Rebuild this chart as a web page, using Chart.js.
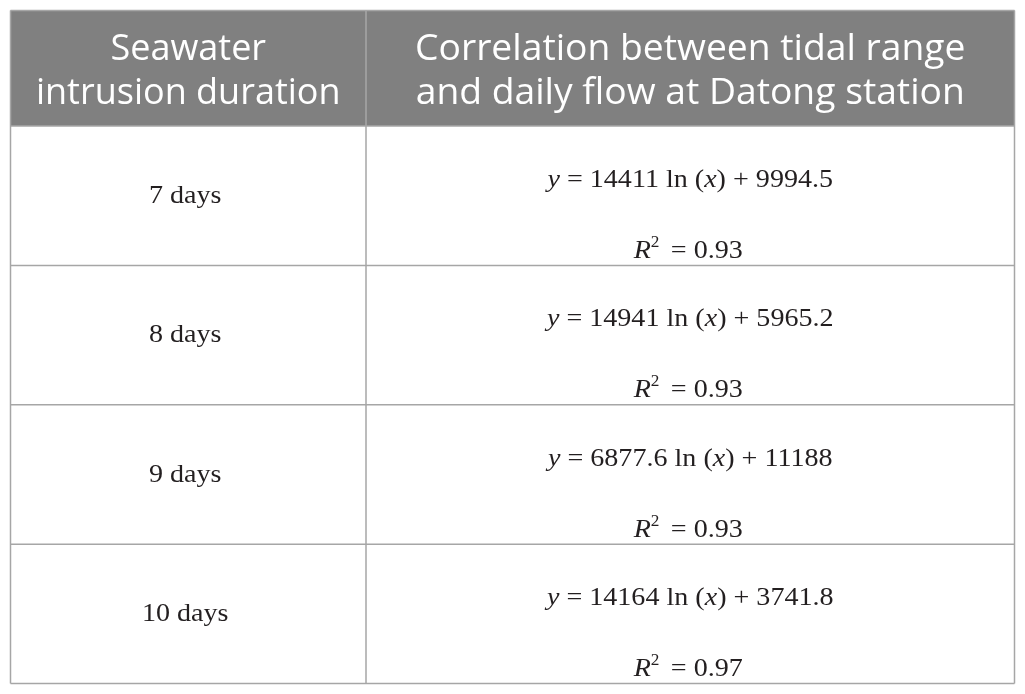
<!DOCTYPE html>
<html>
<head>
<meta charset="utf-8">
<script src="https://cdn.jsdelivr.net/npm/chart.js@4"></script>
<style>
  html, body { margin: 0; padding: 0; background: #ffffff; }
  #wrap { width: 1025px; height: 694px; }
</style>
</head>
<body>
<div id="wrap"><canvas id="c" width="1025" height="694"></canvas></div>
<script>
// ---- data ----
const headers = [
  ["Seawater", "intrusion duration"],
  ["Correlation between tidal range", "and daily flow at Datong station"]
];
const durations = ["7 days", "8 days", "9 days", "10 days"];
const slopes = ["14411", "14941", "6877.6", "14164"];
const intercepts = ["9994.5", "5965.2", "11188", "3741.8"];
const rSquared = ["0.93", "0.93", "0.93", "0.97"];

// ---- layout (pixel space of the hidden scales) ----
const L = { left: 10.5, right: 1014.5, top: 10.5, headBottom: 126, colDiv: 366, bottom: 683.5 };
const rowH = (L.bottom - L.headBottom) / durations.length;
const HSCALE = 1.08;
const BODY = 26;
const serif = "'Liberation Serif', 'Times New Roman', serif";

function drawRuns(ctx, runs, cx, baseline, size) {
  let total = 0;
  const parts = runs.map(r => {
    const s = r.sup ? Math.round(size * 0.62) : size;
    ctx.font = (r.i ? 'italic ' : '') + s + 'px ' + serif;
    const w = ctx.measureText(r.t).width + (r.pad || 0);
    total += w;
    return { r, s, w };
  });
  ctx.save();
  ctx.translate(cx, baseline);
  ctx.scale(HSCALE, 1);
  let x = -total / 2;
  for (const p of parts) {
    ctx.font = (p.r.i ? 'italic ' : '') + p.s + 'px ' + serif;
    ctx.fillText(p.r.t, x, p.r.sup ? -size * 0.42 : 0);
    x += p.w;
  }
  ctx.restore();
}

const tablePlugin = {
  id: 'tablePlugin',
  afterDraw(chart) {
    const ctx = chart.ctx;
    const xs = chart.scales.x, ys = chart.scales.y;
    const X = v => xs.getPixelForValue(v);
    const Y = v => ys.getPixelForValue(v);
    ctx.save();
    ctx.fillStyle = '#808080';
    ctx.fillRect(X(L.left), Y(L.top), X(L.right) - X(L.left), Y(L.headBottom) - Y(L.top));
    ctx.fillStyle = '#ffffff';
    ctx.textAlign = 'left';
    ctx.textBaseline = 'alphabetic';
    ctx.font = "36px 'Open Sans', sans-serif";
    const colCenters = [(L.left + L.colDiv) / 2, (L.colDiv + L.right) / 2];
    const headScale = [1, 1.035];
    headers.forEach((lines, ci) => {
      lines.forEach((ln, li) => {
        const w = ctx.measureText(ln).width;
        ctx.save();
        ctx.translate(X(colCenters[ci]), Y(L.top + 49 + li * 44));
        ctx.scale(headScale[ci], 1);
        ctx.fillText(ln, -w / 2, 0);
        ctx.restore();
      });
    });
    ctx.fillStyle = '#231f20';
    durations.forEach((d, i) => {
      const top = L.headBottom + i * rowH;
      drawRuns(ctx, [{ t: d }], X(colCenters[0] - 3), Y(top + 77), BODY);
      drawRuns(ctx, [
        { t: 'y', i: true },
        { t: ' = ' + slopes[i] + ' ln (' },
        { t: 'x', i: true },
        { t: ') + ' + intercepts[i] }
      ], X(colCenters[1]), Y(top + 61), BODY);
      drawRuns(ctx, [
        { t: 'R', i: true },
        { t: '2', sup: true, pad: 4 },
        { t: ' = ' + rSquared[i] }
      ], X(colCenters[1] - 2), Y(top + 132), BODY);
    });
    ctx.strokeStyle = '#a6a6a6';
    ctx.lineWidth = 1.5;
    ctx.beginPath();
    ctx.moveTo(X(L.left), Y(L.top)); ctx.lineTo(X(L.right), Y(L.top));
    ctx.moveTo(X(L.left), Y(L.headBottom)); ctx.lineTo(X(L.right), Y(L.headBottom));
    for (let i = 1; i <= durations.length; i++) {
      const yy = Y(L.headBottom + i * rowH);
      ctx.moveTo(X(L.left), yy); ctx.lineTo(X(L.right), yy);
    }
    ctx.moveTo(X(L.left), Y(L.top)); ctx.lineTo(X(L.left), Y(L.bottom));
    ctx.moveTo(X(L.colDiv), Y(L.top)); ctx.lineTo(X(L.colDiv), Y(L.bottom));
    ctx.moveTo(X(L.right), Y(L.top)); ctx.lineTo(X(L.right), Y(L.bottom));
    ctx.stroke();
    ctx.restore();
  }
};

new Chart(document.getElementById('c'), {
  type: 'scatter',
  data: { datasets: [{ data: [], pointRadius: 0 }] },
  options: {
    responsive: false,
    animation: false,
    devicePixelRatio: 1,
    layout: { padding: 0 },
    plugins: { legend: { display: false }, tooltip: { enabled: false } },
    scales: {
      x: { type: 'linear', min: 0, max: 1025, display: false },
      y: { type: 'linear', min: 0, max: 694, reverse: true, display: false }
    }
  },
  plugins: [tablePlugin]
});
</script>
</body>
</html>
